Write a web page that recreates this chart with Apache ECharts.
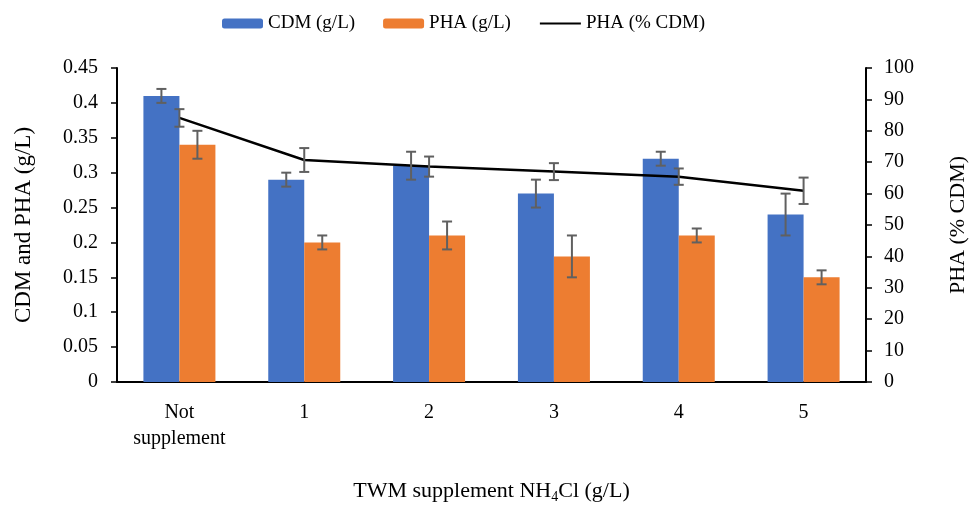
<!DOCTYPE html>
<html>
<head>
<meta charset="utf-8">
<script src="https://cdn.jsdelivr.net/npm/echarts@6/dist/echarts.min.js"></script>
<style>
html,body{margin:0;padding:0;background:#fff;}
#chart{width:970px;height:505px;}
</style>
</head>
<body>
<div id="chart"></div>
<script>
var categories = ['Not\nsupplement', '1', '2', '3', '4', '5'];
var cdm = [0.41, 0.29, 0.31, 0.27, 0.32, 0.24];
var cdmErr = [0.01, 0.01, 0.02, 0.02, 0.01, 0.03];
var pha = [0.34, 0.20, 0.21, 0.18, 0.21, 0.15];
var phaErr = [0.02, 0.01, 0.02, 0.03, 0.01, 0.01];
var phaPct = [84.1, 70.7, 68.6, 67.0, 65.4, 60.9];
var phaPctErr = [2.8, 3.8, 3.2, 2.7, 2.6, 4.2];

var FONT = 'Liberation Serif';
var BAR_W = 36;

function errData(vals, errs) {
  return vals.map(function (v, i) { return [i, v - errs[i], v + errs[i]]; });
}

function errRender(offset) {
  return function (params, api) {
    var x = api.value(0);
    var lo = api.coord([x, api.value(1)]);
    var hi = api.coord([x, api.value(2)]);
    var cx = lo[0] + offset;
    var cap = 5;
    var st = { stroke: '#606060', lineWidth: 2 };
    return {
      type: 'group',
      children: [
        { type: 'line', shape: { x1: cx, y1: lo[1], x2: cx, y2: hi[1] }, style: st },
        { type: 'line', shape: { x1: cx - cap, y1: lo[1], x2: cx + cap, y2: lo[1] }, style: st },
        { type: 'line', shape: { x1: cx - cap, y1: hi[1], x2: cx + cap, y2: hi[1] }, style: st }
      ]
    };
  };
}

var chart = echarts.init(document.getElementById('chart'));
chart.setOption({
  animation: false,
  textStyle: { fontFamily: FONT, color: '#000' },
  legend: {
    data: [
      { name: 'CDM (g/L)' },
      { name: 'PHA (g/L)' },
      { name: 'PHA (% CDM)', itemStyle: { opacity: 0 } }
    ],
    top: 9,
    left: 217,
    itemWidth: 41,
    itemHeight: 10,
    itemGap: 28,
    textStyle: { fontFamily: FONT, fontSize: 19, color: '#000' }
  },
  grid: { left: 117, right: 104, top: 68, bottom: 123, outerBoundsMode: 'none', containLabel: false },
  xAxis: {
    type: 'category',
    data: categories,
    name: '{a|TWM supplement NH}{s|4}{a|Cl (g/L)}',
    nameLocation: 'middle',
    nameGap: 96,
    nameTextStyle: {
      rich: {
        a: { fontFamily: FONT, fontSize: 22, color: '#000', lineHeight: 26 },
        s: { fontFamily: FONT, fontSize: 14, color: '#000', lineHeight: 26, verticalAlign: 'bottom', padding: [10, 0, 0, 0] }
      }
    },
    axisLine: { lineStyle: { color: '#000', width: 2 } },
    axisTick: { show: false },
    axisLabel: { fontFamily: FONT, fontSize: 20, color: '#000', margin: 18, lineHeight: 26 }
  },
  yAxis: [
    {
      type: 'value', min: 0, max: 0.45, interval: 0.05,
      name: 'CDM and PHA (g/L)', nameLocation: 'middle', nameGap: 82,
      nameTextStyle: { fontFamily: FONT, fontSize: 23, color: '#000' },
      splitLine: { show: false },
      axisLine: { show: true, lineStyle: { color: '#000', width: 2 } },
      axisTick: { show: true, length: 6, lineStyle: { color: '#000', width: 1.5 } },
      axisLabel: {
        fontFamily: FONT, fontSize: 20, color: '#000', margin: 19,
        formatter: function (v) { return String(parseFloat(v.toFixed(2))); }
      }
    },
    {
      type: 'value', min: 0, max: 100, interval: 10,
      name: 'PHA (% CDM)', nameLocation: 'middle', nameGap: 81, nameRotate: 90,
      nameTextStyle: { fontFamily: FONT, fontSize: 22, color: '#000' },
      splitLine: { show: false },
      axisLine: { show: true, lineStyle: { color: '#000', width: 2 } },
      axisTick: { show: true, length: 6, lineStyle: { color: '#000', width: 1.5 } },
      axisLabel: { fontFamily: FONT, fontSize: 20, color: '#000', margin: 18 }
    }
  ],
  series: [
    { name: 'CDM (g/L)', type: 'bar', data: cdm, barWidth: BAR_W, barGap: '0%', itemStyle: { color: '#4472C4' }, z: 2 },
    { name: 'PHA (g/L)', type: 'bar', data: pha, barWidth: BAR_W, barGap: '0%', itemStyle: { color: '#ED7D31' }, z: 2 },
    { name: 'PHA (% CDM)', type: 'line', yAxisIndex: 1, data: phaPct, symbol: 'none', lineStyle: { color: '#000', width: 2.5 }, itemStyle: { color: '#000' }, z: 3 },
    { type: 'custom', data: errData(cdm, cdmErr), renderItem: errRender(-BAR_W / 2), encode: { x: 0, y: [1, 2] }, z: 5, silent: true },
    { type: 'custom', data: errData(pha, phaErr), renderItem: errRender(BAR_W / 2), encode: { x: 0, y: [1, 2] }, z: 5, silent: true },
    { type: 'custom', yAxisIndex: 1, data: errData(phaPct, phaPctErr), renderItem: errRender(0), encode: { x: 0, y: [1, 2] }, z: 5, silent: true }
  ]
});
</script>
</body>
</html>
